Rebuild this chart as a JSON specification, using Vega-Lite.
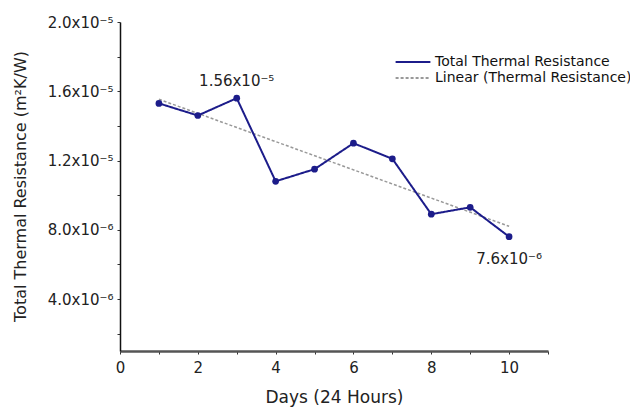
{
  "$schema": "https://vega.github.io/schema/vega-lite/v6.json",
  "autosize": {"type": "none"},
  "padding": {"left": 120, "top": 22, "right": 82, "bottom": 56},
  "width": 428,
  "height": 329,
  "background": "white",
  "config": {
    "view": {"stroke": null},
    "font": "DejaVu Sans",
    "axis": {"grid": false, "labelFont": "DejaVu Sans", "titleFont": "DejaVu Sans", "labelColor": "#222", "titleColor": "#222", "titleFontWeight": "normal", "tickColor": "#333"}
  },
  "data": {
    "values": [
      {"day": 1, "r": 1.53e-5},
      {"day": 2, "r": 1.46e-5},
      {"day": 3, "r": 1.56e-5, "label": "1.56x10⁻⁵", "pos": "above"},
      {"day": 4, "r": 1.08e-5},
      {"day": 5, "r": 1.15e-5},
      {"day": 6, "r": 1.30e-5},
      {"day": 7, "r": 1.21e-5},
      {"day": 8, "r": 0.89e-5},
      {"day": 9, "r": 0.93e-5},
      {"day": 10, "r": 0.76e-5, "label": "7.6x10⁻⁶", "pos": "below"}
    ]
  },
  "encoding": {
    "x": {
      "field": "day", "type": "quantitative",
      "scale": {"domain": [0, 11], "nice": false, "zero": false},
      "axis": {
        "values": [0, 1, 2, 3, 4, 5, 6, 7, 8, 9, 10, 11],
        "labelExpr": "datum.value % 2 == 0 && datum.value <= 10 ? datum.value : ''",
        "labelFlush": false,
        "title": "Days (24 Hours)",
        "titleFontSize": 17, "labelFontSize": 15,
        "tickSize": 3, "labelPadding": 6,
        "domainColor": "#555", "domainWidth": 2.5,
        "titleY": 51, "titleBaseline": "alphabetic"
      }
    },
    "y": {
      "field": "r", "type": "quantitative",
      "scale": {"domain": [1e-6, 2e-5], "nice": false, "zero": false},
      "axis": {
        "values": [2e-6, 4e-6, 6e-6, 8e-6, 1e-5, 1.2e-5, 1.4e-5, 1.6e-5, 1.8e-5, 2e-5],
        "labelExpr": "abs(datum.value*1e6 % 4) < 0.01 || abs(datum.value*1e6 % 4) > 3.99 ? (datum.value < 1e-5 ? format(datum.value*1e6, '.1f') + 'x10⁻⁶' : format(datum.value*1e5, '.1f') + 'x10⁻⁵') : ''",
        "title": "Total Thermal Resistance (m²K/W)",
        "titleFontSize": 16, "labelFontSize": 15,
        "tickSize": 3, "labelPadding": 4,
        "domainColor": "#111", "domainWidth": 1.5,
        "titleX": -92, "titleY": 164, "titleAngle": -90, "titleAlign": "center", "titleBaseline": "bottom"
      }
    }
  },
  "layer": [
    {
      "transform": [{"regression": "r", "on": "day", "method": "linear"}],
      "mark": {"type": "line", "strokeWidth": 1.5},
      "encoding": {
        "color": {
          "datum": "Linear (Thermal Resistance)",
          "scale": {"domain": ["Total Thermal Resistance", "Linear (Thermal Resistance)"], "range": ["#1c1c8a", "#999999"]},
          "legend": {
            "title": null, "orient": "none", "legendX": 286, "legendY": 33,
            "symbolType": "M-2.9,0H2.9", "symbolSize": 144, "symbolStrokeWidth": 2,
            "labelFontSize": 14, "labelFont": "DejaVu Sans", "labelColor": "#111", "labelLimit": 400,
            "rowPadding": 2, "labelOffset": 15
          }
        },
        "strokeDash": {
          "datum": "Linear (Thermal Resistance)",
          "scale": {"domain": ["Total Thermal Resistance", "Linear (Thermal Resistance)"], "range": [[1, 0], [3, 2]]},
          "legend": {
            "title": null, "orient": "none", "legendX": 286, "legendY": 33,
            "symbolType": "M-2.9,0H2.9", "symbolSize": 144, "symbolStrokeWidth": 2,
            "labelFontSize": 14, "labelFont": "DejaVu Sans", "labelColor": "#111", "labelLimit": 400,
            "rowPadding": 2, "labelOffset": 15
          }
        }
      }
    },
    {
      "mark": {"type": "line", "strokeWidth": 2, "point": {"filled": true, "size": 45, "color": "#1c1c8a"}},
      "encoding": {
        "color": {"datum": "Total Thermal Resistance"},
        "strokeDash": {"datum": "Total Thermal Resistance"}
      }
    },
    {
      "transform": [{"filter": "datum.pos == 'above'"}],
      "mark": {"type": "text", "dy": -17, "fontSize": 15, "color": "#222"},
      "encoding": {"text": {"field": "label"}}
    },
    {
      "transform": [{"filter": "datum.pos == 'below'"}],
      "mark": {"type": "text", "dy": 22, "fontSize": 15, "color": "#222"},
      "encoding": {"text": {"field": "label"}}
    }
  ]
}
